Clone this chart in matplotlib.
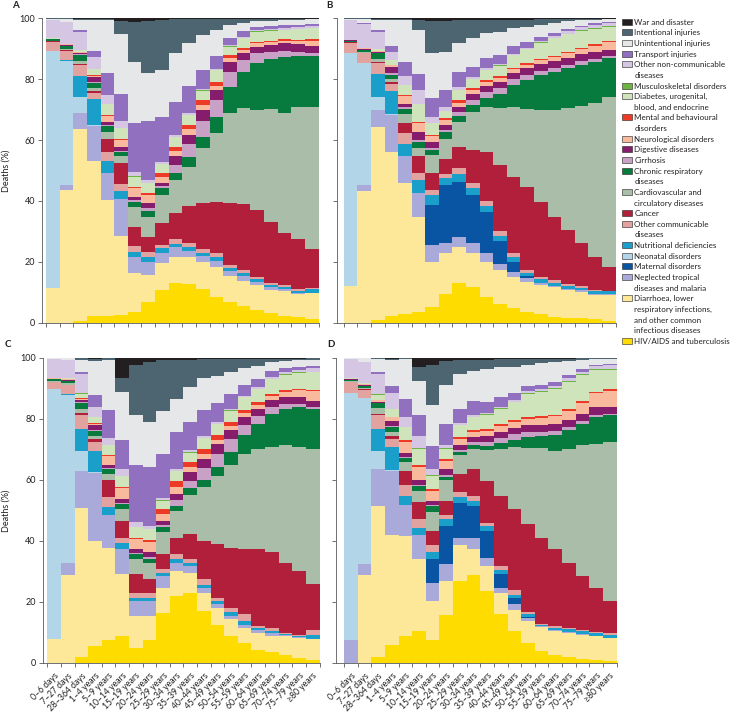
import numpy as np
import matplotlib
matplotlib.use('Agg')
import matplotlib.pyplot as plt
from matplotlib.patches import Rectangle

plt.rcParams['font.family'] = ['Lato', 'DejaVu Sans']

age_groups = ['0–6 days', '7–27 days', '28–364 days', '1–4 years', '5–9 years',
              '10–14 years', '15–19 years', '20–24 years', '25–29 years', '30–34 years',
              '35–39 years', '40–44 years', '45–49 years', '50–54 years', '55–59 years',
              '60–64 years', '65–69 years', '70–74 years', '75–79 years', '≥80 years']

# causes, bottom of the stack first (legend shows them top-down in reverse)
causes = ['HIV/AIDS and tuberculosis',
          'Diarrhoea, lower\nrespiratory infections,\nand other common\ninfectious diseases',
          'Neglected tropical\ndiseases and malaria',
          'Maternal disorders',
          'Neonatal disorders',
          'Nutritional deficiencies',
          'Other communicable\ndiseases',
          'Cancer',
          'Cardiovascular and\ncirculatory diseases',
          'Chronic respiratory\ndiseases',
          'Cirrhosis',
          'Digestive diseases',
          'Neurological disorders',
          'Mental and behavioural\ndisorders',
          'Diabetes, urogenital,\nblood, and endocrine',
          'Musculoskeletal disorders',
          'Other non-communicable\ndiseases',
          'Transport injuries',
          'Unintentional injuries',
          'Intentional injuries',
          'War and disaster']

colors = ['#FEDC00', '#FDE89A', '#A9AAD9', '#0A55A3', '#B3D5E8', '#1A9FCB', '#E2A3A0',
          '#B21F3B', '#A9BDA8', '#077A3E', '#C9A1C6', '#861C6C', '#F9B99C', '#EC3A26',
          '#D0E4BC', '#6CB444', '#D5C6E3', '#9171BF', '#E6E7E8', '#4C6570', '#231F20']

# one row per age group, values (% of deaths) in the order of `causes`
panel_a = [
    [0, 11.5, 0, 0, 77.8, 0, 3, 0.1, 0.2, 0.5, 0, 0.1, 0.1, 0, 0.1, 0, 6, 0.1, 0.4, 0.1, 0],
    [0, 43.6, 1.8, 0, 40.7, 0.2, 3, 0.2, 0.4, 1, 0, 0.2, 0.3, 0, 0.3, 0, 7, 0.2, 1.0, 0.1, 0],
    [0.7, 62.8, 5.5, 0, 5, 7, 3.5, 0.5, 1, 2, 0.2, 0.3, 0.3, 0, 0.7, 0, 6, 0.5, 3.5, 0.3, 0.2],
    [2.2, 51, 11.4, 0, 0.3, 8.5, 2.2, 0.6, 1, 1.6, 0.4, 1.4, 0.6, 0.1, 2, 0.1, 3.8, 2.2, 9.9, 0.5, 0.2],
    [2.3, 38, 9, 0, 0, 3.9, 3, 4, 2.6, 1.8, 0.3, 1.1, 2, 0.2, 3.6, 0.1, 2.9, 7.3, 17.2, 0.5, 0.2],
    [2.5, 26, 12, 0, 0, 2.9, 2.2, 6.8, 2.4, 1.4, 0.3, 1.3, 2.2, 0.2, 3.6, 0.1, 2.5, 8.7, 19.9, 4, 1],
    [3.6, 12.6, 5.5, 0, 0, 1.6, 1.9, 6.1, 6.8, 1.7, 0.4, 1.2, 2.7, 0.5, 3.4, 0.1, 1.5, 16.1, 20.1, 13.1, 1.1],
    [6.9, 8.8, 4.3, 0, 0, 1.7, 1.6, 5, 6.5, 2, 0.8, 1.8, 2.5, 0.8, 3.1, 0.1, 0.9, 19.6, 15.7, 17.1, 0.8],
    [10.7, 9, 3.1, 0, 0, 1.6, 1.1, 7.1, 9.3, 2.2, 0.9, 1, 2, 1.1, 3, 0.1, 0.7, 14.6, 15.5, 16.5, 0.5],
    [13.1, 8.6, 3.1, 0, 0, 1, 1.6, 8.5, 11, 2.2, 2.7, 3, 1.7, 1.3, 3.1, 0.1, 0.7, 10.9, 15.9, 11.2, 0.3],
    [12.7, 9, 2, 0, 0, 1.1, 1.5, 12, 13, 3, 4.4, 3, 1.8, 1.4, 3.3, 0.1, 0.5, 9, 14, 7.9, 0.3],
    [11, 9, 1.9, 0, 0, 0.9, 1.3, 15.1, 18.1, 3.8, 5.3, 3.5, 1.6, 1.7, 3, 0.1, 0.5, 6.2, 11.5, 5.3, 0.2],
    [8.5, 9.9, 2, 0, 0, 1.1, 1.3, 17, 22.4, 5.3, 5.7, 3.3, 1.3, 1.4, 3.8, 0.1, 0.4, 4.1, 8.6, 3.6, 0.2],
    [6.9, 8.4, 1.8, 0, 0, 0.8, 1.1, 20.2, 29.8, 8.3, 5.2, 3.3, 1.1, 1.1, 2.7, 0.1, 0.4, 2.4, 4.2, 2, 0.2],
    [5.5, 8.3, 1.5, 0, 0, 0.9, 1.1, 21.7, 31.4, 12.1, 3.8, 2.2, 1.1, 0.8, 3, 0.1, 0.4, 1.8, 2.8, 1.3, 0.2],
    [4.2, 8.2, 1.1, 0, 0, 0.7, 0.9, 21.9, 32.9, 15.3, 3.3, 2.2, 1.1, 0.5, 3.3, 0.1, 0.3, 1.3, 1.7, 0.9, 0.1],
    [3.1, 7.6, 0.9, 0, 0, 0.8, 0.7, 20.1, 36.9, 16.4, 2.5, 2.2, 0.9, 0.5, 3.3, 0.1, 0.4, 1, 1.8, 0.7, 0.1],
    [2.2, 8.3, 0.5, 0, 0, 0.8, 0.6, 17, 39.4, 18.6, 2, 2.4, 0.9, 0.4, 3.1, 0.1, 0.5, 1, 1.5, 0.6, 0.1],
    [1.8, 7.6, 0.3, 0, 0, 0.8, 0.5, 16.4, 43.6, 16.6, 1.4, 2.5, 1.1, 0.3, 3.5, 0.1, 0.6, 0.7, 1.6, 0.5, 0.1],
    [1.1, 8.5, 0.2, 0, 0, 1.2, 0.3, 12.8, 46.9, 16.6, 0.9, 2.4, 1.8, 0.4, 3.6, 0.1, 0.7, 0.6, 1.6, 0.2, 0.1],
]

panel_b = [
    [0, 12.2, 0, 0, 76.3, 0, 3.5, 0.1, 0.2, 0.4, 0, 0.1, 0.1, 0, 0.1, 0, 6.5, 0, 0.4, 0.1, 0],
    [0, 43.4, 1.8, 0, 40, 0.2, 3.1, 0.2, 0.3, 0.7, 0, 0.2, 0.2, 0, 0.3, 0, 7.7, 0.2, 1.5, 0.2, 0],
    [0.9, 63.3, 5.7, 0, 4.4, 7.4, 3.5, 0.6, 0.8, 1.9, 0.2, 0.3, 0.3, 0, 0.6, 0, 5.7, 0.6, 3.3, 0.3, 0.2],
    [2.2, 54, 12, 0, 0.2, 7.8, 2.2, 0.6, 1, 1.5, 0.6, 1.9, 0.5, 0.1, 1.7, 0.1, 2.6, 1.8, 8.5, 0.5, 0.2],
    [2.8, 43.2, 8.8, 0, 0, 3.9, 3.5, 3.5, 3, 1.6, 0.4, 1.3, 2.6, 0.2, 3.3, 0.1, 2.8, 4.8, 13.6, 0.4, 0.2],
    [3.6, 31, 8.1, 0, 0, 4.2, 2.2, 5.7, 2.5, 2.2, 0.5, 2.8, 2.8, 0.3, 5.9, 0.1, 4.6, 5.2, 14.3, 3.3, 0.7],
    [5.3, 14.7, 5.5, 13.2, 0, 3.2, 1.7, 5.5, 6, 1.6, 0.6, 2.2, 1.8, 0.4, 3.8, 0.1, 2.1, 6, 14.8, 10.5, 1],
    [9.5, 13.5, 3.3, 18.9, 0, 2.4, 1.4, 4.7, 6.7, 2.2, 0.8, 1.6, 1.7, 0.6, 2.3, 0.1, 1.1, 5.7, 12.5, 10.2, 0.8],
    [13.1, 11.7, 3.5, 18, 0, 2.5, 1.9, 6.9, 8.4, 1.9, 1.4, 1.7, 1.3, 0.9, 3.3, 0.1, 0.9, 5, 9.3, 7.7, 0.5],
    [11.6, 11.4, 3.1, 15.8, 0, 2.2, 1.7, 10.9, 12.6, 2.2, 1.6, 2, 1.4, 0.5, 3, 0.1, 0.6, 3.4, 9.3, 6.1, 0.5],
    [8.5, 11.5, 2.8, 13.7, 0, 1.8, 1.8, 16.1, 14.8, 2.7, 2.2, 1.9, 1.4, 0.5, 3.3, 0.1, 0.5, 3.3, 8.2, 4.4, 0.5],
    [6, 11.3, 2, 7.5, 0, 1.8, 1.5, 21.7, 18.8, 4.5, 2, 2.1, 1.2, 0.5, 3.5, 0.1, 0.5, 3, 7.5, 4, 0.5],
    [4.7, 10.4, 1.5, 3.5, 0, 1.6, 1.2, 25.1, 23, 7.1, 1.8, 2.2, 1.2, 0.5, 4, 0.1, 0.5, 2.5, 5.8, 2.9, 0.4],
    [3.6, 9.9, 1.2, 0.5, 0, 1.2, 1, 27.3, 25.4, 9.6, 1.6, 2.3, 1.2, 0.4, 4.6, 0.1, 0.5, 1.9, 4.8, 2.5, 0.4],
    [2.8, 9.6, 0.7, 0, 0, 1.1, 0.9, 24.7, 30, 11.6, 1.3, 2.4, 1.2, 0.4, 5.3, 0.1, 0.5, 1.3, 3.8, 2, 0.3],
    [2, 9.6, 0.6, 0, 0, 1, 0.8, 20.8, 35, 12.7, 1.1, 2.4, 1.3, 0.4, 5.8, 0.1, 0.6, 1, 3.3, 1.3, 0.2],
    [1.7, 9, 0.5, 0, 0, 0.9, 0.6, 17.7, 40, 13.2, 1.2, 2.3, 1.5, 0.4, 5.8, 0.2, 0.8, 0.8, 2.4, 0.8, 0.2],
    [1.4, 8.8, 0.4, 0, 0, 0.9, 0.5, 14.1, 45, 13.6, 1.3, 2.2, 1.7, 0.4, 5.6, 0.2, 0.9, 0.6, 1.8, 0.5, 0.1],
    [1.1, 8, 0.3, 0, 0, 0.9, 0.4, 11, 50.4, 13.7, 0.9, 2.2, 2.1, 0.4, 5.2, 0.2, 1, 0.5, 1.3, 0.3, 0.1],
    [0.5, 8.6, 0.2, 0, 0, 1, 0.2, 7.9, 55.6, 12.9, 0.6, 2.2, 2.6, 0.4, 4.6, 0.2, 1.1, 0.3, 0.9, 0.1, 0.1],
]

panel_c = [
    [0, 7.9, 0, 0, 81.8, 0, 2.4, 0.1, 0.3, 0.5, 0, 0.1, 0.2, 0, 0.2, 0, 6, 0, 0.4, 0.1, 0],
    [0, 28.7, 4.2, 0, 55, 0.1, 3, 0.2, 0.4, 0.8, 0, 0.2, 0.3, 0, 0.3, 0, 6, 0.1, 0.6, 0.1, 0],
    [2, 48.7, 12.3, 0, 6.6, 6.9, 4.6, 0.7, 1.3, 2.2, 0.2, 0.5, 0.6, 0.1, 1.5, 0.1, 6.2, 0.8, 4, 0.5, 0.2],
    [5.5, 34.5, 22.3, 0, 0.2, 7.1, 2.8, 0.9, 1.1, 1.5, 0.4, 1.6, 0.5, 0.1, 2, 0.1, 3.4, 3.8, 11.2, 0.7, 0.3],
    [7.5, 30.3, 10.7, 0, 0, 2.5, 3.3, 5.5, 2.2, 1.4, 0.4, 0.9, 3, 0.3, 3.3, 0.1, 2.3, 9.1, 16.6, 0.4, 0.2],
    [8.8, 20.2, 8.3, 0, 0, 2, 1.6, 5.5, 4, 1.7, 0.3, 1.3, 3.5, 0.4, 3.5, 0.1, 2.4, 9.3, 15.9, 4.6, 6.6],
    [4.9, 10.5, 4.9, 0, 0, 1.1, 1.6, 6.1, 4.9, 1.6, 0.4, 1.3, 3.3, 0.5, 3.3, 0.1, 1.6, 18.6, 16.4, 16.5, 2.4],
    [7.5, 7.9, 4.9, 0, 0, 1.1, 1.4, 4.6, 5.3, 1.5, 0.6, 1.6, 3.1, 0.9, 3.5, 0.1, 0.8, 19.3, 14.8, 19.8, 1.3],
    [16.4, 8.3, 3.8, 0, 0, 1.1, 1.1, 4.9, 7.2, 1.6, 0.8, 1.4, 2.2, 1.6, 2.8, 0.1, 0.7, 14.6, 14, 16.6, 0.8],
    [22.1, 8.1, 2.7, 0, 0, 1.1, 1.6, 5.5, 8.8, 1.6, 2, 1.7, 2.3, 2, 3.3, 0.1, 0.5, 12.3, 10.9, 12.8, 0.6],
    [22.8, 6.8, 2.2, 0, 0, 0.9, 1.3, 8.3, 12.7, 2.2, 2.3, 3.1, 1.7, 1.7, 2.9, 0.1, 0.7, 9.3, 11.5, 8.9, 0.6],
    [17, 6, 1.5, 0, 0, 1.2, 1.7, 12.6, 17.6, 2.2, 4, 3, 1.6, 1.8, 3.4, 0.1, 0.6, 8.5, 10.4, 6.3, 0.5],
    [12.6, 5.5, 1.2, 0, 0, 0.9, 1.2, 17.5, 22.3, 2.9, 4.5, 3, 1.3, 1.8, 3.6, 0.1, 0.5, 6.3, 8.8, 5.5, 0.5],
    [8.8, 5.5, 1.2, 0, 0, 1.2, 1.4, 19.7, 26.9, 4.4, 4.3, 2.9, 1.2, 1.5, 3.7, 0.1, 0.5, 4.7, 7.2, 4.4, 0.4],
    [6.6, 4.9, 1.1, 0, 0, 1.3, 2, 21.6, 31, 6.1, 3.5, 2.5, 1.2, 1.2, 4, 0.1, 0.5, 3.5, 5.6, 2.9, 0.4],
    [4.4, 5.5, 0.9, 0, 0, 0.6, 0.7, 25.2, 32.9, 8.2, 2.6, 2.3, 1.3, 0.8, 4.4, 0.1, 0.5, 2.5, 4.3, 2.4, 0.4],
    [3.5, 5.5, 0.8, 0, 0, 0.8, 0.9, 24.7, 34.6, 10.9, 2, 2.4, 1.4, 0.6, 4.9, 0.1, 0.6, 1.9, 2.9, 1.2, 0.3],
    [2.7, 6.1, 0.5, 0, 0, 0.3, 0.3, 23, 38.4, 12, 1.4, 2.4, 1.8, 0.5, 5, 0.1, 0.7, 1.4, 2.2, 0.9, 0.3],
    [1.6, 6.6, 0.3, 0, 0, 0.4, 0.4, 20.9, 40.6, 13.1, 1, 2.2, 2.4, 0.4, 5.2, 0.1, 0.9, 1, 2, 0.6, 0.3],
    [1.1, 6.6, 0.2, 0, 0, 1.3, 1.5, 15.1, 44.4, 12.9, 0.7, 2, 3.2, 0.4, 5.8, 0.2, 1.1, 0.8, 2.1, 0.4, 0.2],
]

panel_d = [
    [0, 0, 7.5, 0, 81.1, 0, 3.3, 0.1, 0.3, 0.5, 0, 0.1, 0.2, 0, 0.2, 0, 6.3, 0, 0.4, 0, 0],
    [0, 28.7, 3.6, 0, 54.5, 0.1, 2.6, 0.2, 0.3, 0.8, 0, 0.2, 0.3, 0, 0.3, 0, 7, 0.1, 1.2, 0.1, 0],
    [2, 49.3, 12.3, 0, 6, 6.9, 4.6, 0.6, 1.7, 1.6, 0.2, 0.4, 0.6, 0.1, 1.6, 0.1, 6.5, 0.7, 4.3, 0.4, 0.1],
    [6, 35.9, 21.1, 0, 0.2, 7.5, 2.8, 0.9, 1.4, 1.5, 0.4, 1.6, 1.3, 0.1, 2.5, 0.1, 5, 2.5, 8.4, 0.5, 0.3],
    [9, 32.7, 10.1, 0, 0, 3, 3.5, 4.7, 2.8, 1.3, 0.3, 1.5, 3.6, 0.4, 4.4, 0.1, 3.2, 6, 12.9, 0.3, 0.2],
    [10.4, 23.6, 7.9, 0, 0, 2.2, 3, 5.5, 3.9, 1.6, 0.3, 1.6, 4.2, 0.5, 5.5, 0.1, 4.2, 6.6, 11.2, 4.7, 3],
    [7.5, 12.8, 6, 7.7, 0, 2.4, 2.2, 4.7, 6.3, 1.7, 0.4, 1.5, 3.2, 0.6, 4.4, 0.1, 2.2, 7.3, 13.4, 13.2, 2.4],
    [15.6, 11.3, 5.4, 12.7, 0, 2.1, 1.4, 4.7, 6.6, 1.1, 0.6, 1.9, 2.8, 0.6, 3.4, 0.1, 1, 7.1, 12.6, 7.8, 1.2],
    [26.9, 11.7, 2.5, 11.3, 0, 1.9, 1.6, 6.1, 6, 1.2, 0.7, 1.4, 2, 0.7, 3.9, 0.1, 0.5, 4.8, 11.4, 4.5, 0.8],
    [28.7, 8.6, 3.8, 10.4, 0, 1.6, 1.7, 8.8, 6.6, 1.3, 0.8, 1.6, 1.7, 0.7, 4.2, 0.2, 0.5, 4.5, 10, 3.5, 0.8],
    [23.6, 8.2, 2.7, 8.8, 0, 1.6, 1.1, 13.7, 10, 1.5, 1.2, 1.8, 1.8, 0.8, 4.5, 0.2, 0.5, 3.4, 11, 3, 0.6],
    [15.9, 7.1, 1.6, 4.4, 0, 1.6, 1.1, 23, 15.5, 2, 1.5, 2, 1.8, 0.8, 5, 0.2, 0.5, 3, 9.8, 2.7, 0.5],
    [10.4, 7.1, 1.7, 2.1, 0, 1.1, 1.4, 26.6, 20.3, 2.5, 1.7, 2.2, 1.9, 0.7, 5.7, 0.2, 0.5, 2.4, 8.6, 2.4, 0.5],
    [6.4, 7.3, 1, 0.3, 0, 1.1, 0.5, 28.9, 25, 3.5, 1.7, 2.2, 2, 0.6, 7.5, 0.3, 0.6, 1.7, 7, 1.8, 0.5],
    [3.8, 8, 0.3, 0, 0, 0.5, 0.3, 28.2, 29.2, 4, 1.5, 2.3, 2.3, 0.5, 8, 0.3, 0.6, 1.4, 7, 1.4, 0.4],
    [2.7, 7.7, 0.4, 0, 0, 0.8, 0.4, 25.3, 32, 5.3, 1.3, 2.3, 2.6, 0.5, 8.5, 0.3, 0.7, 1.2, 6.6, 1.1, 0.3],
    [2, 7.9, 0.3, 0, 0, 0.8, 0.4, 21.5, 37.3, 6, 1.1, 2.4, 3, 0.5, 9, 0.3, 0.8, 1, 4.5, 0.9, 0.3],
    [1.3, 8, 0.3, 0, 0, 0.8, 0.4, 17.7, 42.8, 7.1, 0.9, 2.4, 3.6, 0.4, 8.5, 0.3, 0.9, 0.8, 3, 0.6, 0.2],
    [0.9, 7.9, 0.2, 0, 0, 0.9, 0.4, 14.4, 47.1, 8.8, 0.7, 2.5, 4.5, 0.4, 7.2, 0.3, 1, 0.5, 1.8, 0.4, 0.1],
    [0.5, 7.7, 0.1, 0, 0, 1, 0.6, 10.4, 52.1, 8.7, 0.5, 2.4, 5.2, 0.4, 6.4, 0.3, 1.2, 0.3, 1.8, 0.2, 0.2],
]

W, H = 732, 713
TXT = '#231F20'
AX = '#58595B'
fig = plt.figure(figsize=(W / 100, H / 100), dpi=100)


def px_axes(left, top, right, bottom):
    return fig.add_axes([left / W, 1 - bottom / H, (right - left) / W, (bottom - top) / H])


def draw_panel(ax, rows, xmin, ylabels, xlabels):
    vals = np.array(rows, dtype=float).T
    vals = vals / vals.sum(axis=0) * 100
    cum = np.cumsum(vals, axis=0)
    n = len(age_groups)
    edges = np.arange(n + 1)
    base = np.zeros(n)
    for k in range(len(causes)):
        ax.stairs(cum[k], edges, baseline=base, fill=True, color=colors[k],
                  linewidth=0, antialiased=False)
        base = cum[k]
    ax.set_xlim(xmin, n)
    ax.set_ylim(0, 100)
    for s in ('top', 'right'):
        ax.spines[s].set_visible(False)
    for s in ('left', 'bottom'):
        ax.spines[s].set_color(AX)
        ax.spines[s].set_linewidth(0.6)
    ax.set_yticks(range(0, 101, 20))
    ax.set_xticks(edges)
    ax.set_xticklabels([])
    ax.set_xticks(np.arange(n) + 0.5, minor=True)
    ax.tick_params(axis='both', which='major', direction='out', length=3, width=0.6,
                   color=AX, labelcolor=TXT, labelsize=6.5, pad=2)
    ax.tick_params(axis='x', which='minor', length=0, pad=6)
    if ylabels:
        ax.set_ylabel('Deaths (%)', fontsize=6.5, color=TXT)
        ax.yaxis.set_label_coords(-0.115, 0.5)
    else:
        ax.set_yticklabels([])
    if xlabels:
        ax.set_xticklabels(age_groups, minor=True, rotation=45, ha='right', va='top',
                           rotation_mode='anchor', fontsize=6.2, color=TXT)
    else:
        ax.set_xticklabels([], minor=True)


ax_a = px_axes(42, 18.3, 318.5, 322.7)
ax_b = px_axes(337, 18.3, 615.5, 322.7)
ax_c = px_axes(42.7, 357.7, 319.5, 663)
ax_d = px_axes(336, 357.7, 616.5, 663)

draw_panel(ax_a, panel_a, -0.3, True, False)
draw_panel(ax_b, panel_b, -0.5, False, False)
draw_panel(ax_c, panel_c, -0.34, True, True)
draw_panel(ax_d, panel_d, -0.6, False, True)

for letter, (x, y) in zip('ABCD', [(15, 5), (329.5, 5), (8, 344.5), (330.5, 344.5)]):
    fig.text(x / W, 1 - y / H, letter, ha='center', va='center', fontsize=7,
             fontweight='bold', color=TXT)

# legend (top-down: reverse of stack order)
line_y = 21.7
pitch = 10.64
for k in range(len(causes) - 1, -1, -1):
    lines = causes[k].split('\n')
    fig.add_artist(Rectangle((622 / W, 1 - (line_y + 3) / H), 10 / W, 6 / H,
                             transform=fig.transFigure, facecolor=colors[k],
                             edgecolor=TXT, linewidth=0.4))
    for j, ln in enumerate(lines):
        fig.text(634.5 / W, 1 - (line_y + j * pitch) / H, ln, ha='left', va='center_baseline',
                 fontsize=5.75, color=TXT)
    line_y += pitch * len(lines)

fig.savefig('out.png', dpi=100)
